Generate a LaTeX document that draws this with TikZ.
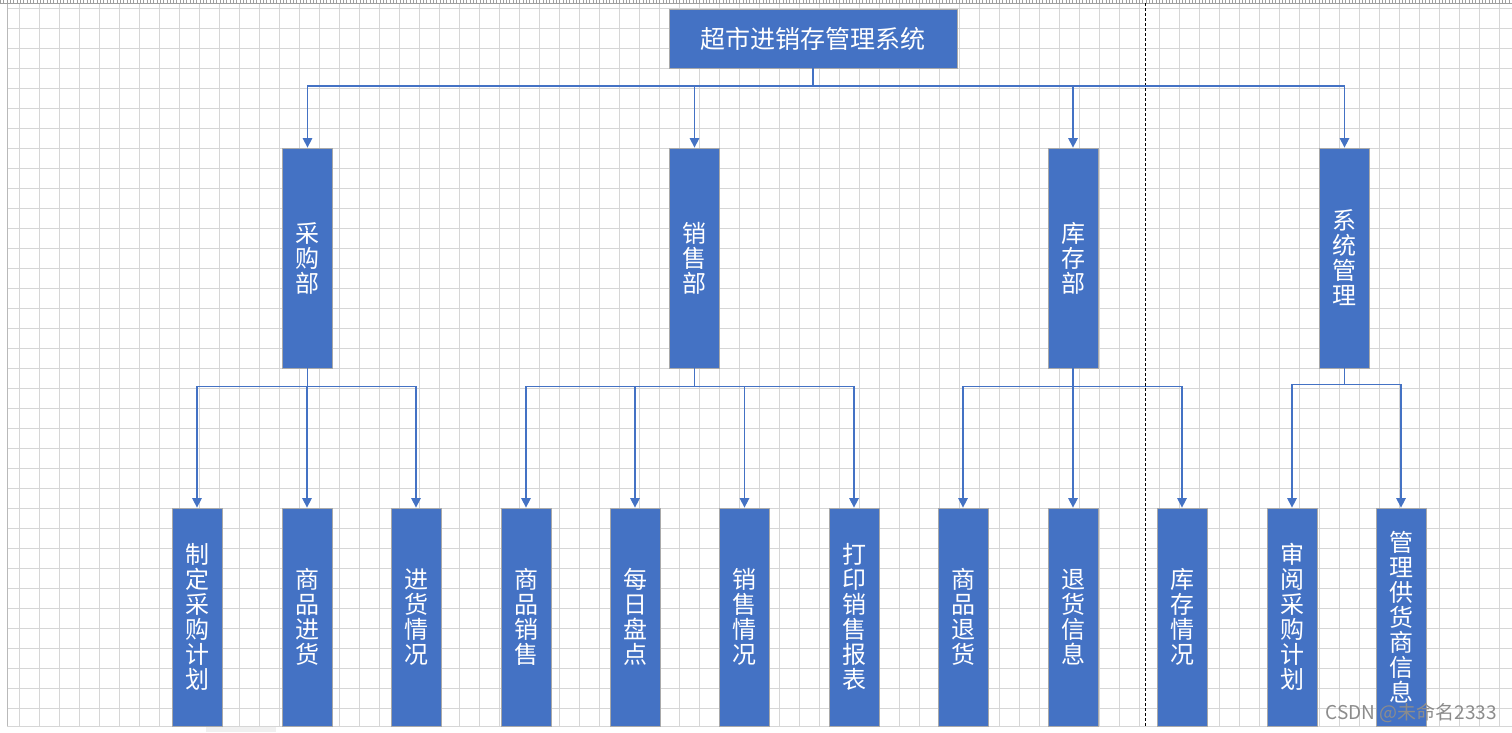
\documentclass[tikz,border=0pt]{standalone}
\usepackage{fontspec}
\newfontfamily\cjk{Noto Sans CJK SC}
\usetikzlibrary{arrows.meta}
\definecolor{boxblue}{HTML}{4472C4}
\definecolor{gridc}{HTML}{D6D6D6}
\definecolor{boxedge}{HTML}{A9A9A9}
\tikzset{
  box/.style={draw=boxedge, line width=0.8pt, fill=boxblue, text=white, inner sep=0pt, align=center,
    font=\cjk\fontsize{24}{25}\selectfont},
  topbox/.style={box, minimum width=288pt, minimum height=59pt, font=\cjk\fontsize{25}{27}\selectfont},
  midbox/.style={box, minimum width=50pt, minimum height=220pt},
  leafbox/.style={box, minimum width=50pt, minimum height=218pt},
  conn/.style={draw=boxblue, line width=1.4pt, -{Triangle[width=9.5pt,length=9.5pt]}},
}
\begin{document}
\begin{tikzpicture}[x=1pt,y=-1pt]
\useasboundingbox (0,0) rectangle (1512,732);
\fill[white] (0,0) rectangle (1512,732);
% grid
\foreach \gx in {0,...,74} {\draw[gridc, line width=0.9pt] (19.3+20*\gx,3) -- (19.3+20*\gx,726);}
\foreach \gy in {0,...,35} {\draw[gridc, line width=0.9pt] (7.3,8.3+20*\gy) -- (1512,8.3+20*\gy);}
\draw[gridc, line width=0.9pt] (7.3,726) -- (1512,726);
\draw[gray!55, line width=1pt] (7.3,3) -- (7.3,726);
% top ruler
\draw[gray!75, line width=3pt, dash pattern=on 1pt off 2.33pt] (0,1.5) -- (1512,1.5);
\draw[gray!75, line width=0.8pt] (0,3.2) -- (1512,3.2);
% bottom strip
\fill[white] (0,726.5) rectangle (1512,732);
\fill[gray!12] (206,726.5) rectangle (276,732);
% page divider
\draw[black, line width=0.9pt, dash pattern=on 3pt off 2pt] (1145.5,3) -- (1145.5,726);

% nodes
\node[topbox] (root) at (813,38.5) {超市进销存管理系统};
\node[midbox] (cg) at (307.5,258) {采\\购\\部};
\node[midbox] (xs) at (694.5,258) {销\\售\\部};
\node[midbox] (kc) at (1073,258) {库\\存\\部};
\node[midbox] (gl) at (1344.5,258) {系\\统\\管\\理};

\node[leafbox] (a1) at (197,617) {制\\定\\采\\购\\计\\划};
\node[leafbox] (a2) at (307,617) {商\\品\\进\\货};
\node[leafbox] (a3) at (416,617) {进\\货\\情\\况};
\node[leafbox] (b1) at (526,617) {商\\品\\销\\售};
\node[leafbox] (b2) at (635,617) {每\\日\\盘\\点};
\node[leafbox] (b3) at (744.5,617) {销\\售\\情\\况};
\node[leafbox] (b4) at (854,617) {打\\印\\销\\售\\报\\表};
\node[leafbox] (c1) at (963,617) {商\\品\\退\\货};
\node[leafbox] (c2) at (1073,617) {退\\货\\信\\息};
\node[leafbox] (c3) at (1182,617) {库\\存\\情\\况};
\node[leafbox] (d1) at (1292,617) {审\\阅\\采\\购\\计\\划};
\node[leafbox] (d2) at (1401,617) {管\\理\\供\\货\\商\\信\\息};

% connectors
\foreach \t in {cg,xs,kc,gl} {\draw[conn] (root.south) -- ++(0,17.5) -| (\t.north);}
\foreach \t in {a1,a2,a3} {\draw[conn] (cg.south) -- ++(0,18) -| (\t.north);}
\foreach \t in {b1,b2,b3,b4} {\draw[conn] (xs.south) -- ++(0,18) -| (\t.north);}
\foreach \t in {c1,c2,c3} {\draw[conn] (kc.south) -- ++(0,18) -| (\t.north);}
\foreach \t in {d1,d2} {\draw[conn] (gl.south) -- ++(0,16) -| (\t.north);}

% watermark
\node[anchor=east, text=gray!90, font=\cjk\fontsize{19}{21}\selectfont, inner sep=0pt] (wm) at (1497,713) {CSDN @未命名2333};
\end{tikzpicture}
\end{document}
